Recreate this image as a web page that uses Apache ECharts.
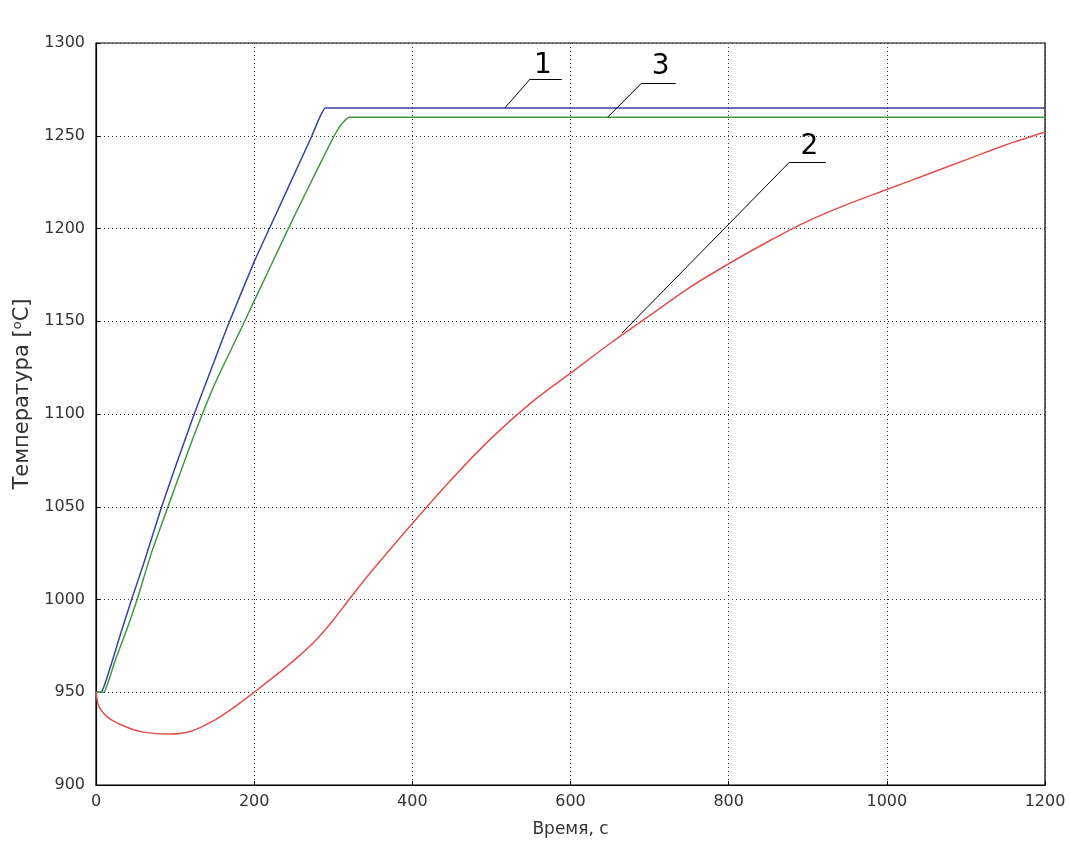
<!DOCTYPE html>
<html><head><meta charset="utf-8">
<script src="https://cdn.jsdelivr.net/npm/echarts@6/dist/echarts.min.js"></script>
<style>html,body{margin:0;padding:0;background:#fff}#c{width:1071px;height:855px}</style>
</head><body><div id="c"></div>
<script>
// Curve 1 (blue): [time s, temperature °C]
const curve1 = [[0,950],[6,950],[10,953],[20,966],[30,980],[45,1000],[60,1019],[83,1050],[100,1071],[125,1101],[150,1129],[167,1148],[200,1182],[230,1210],[258,1236],[273,1250],[283,1260],[290,1265],[320,1265],[1200,1265]];
// Curve 3 (green)
const curve3 = [[0,950],[10,950],[15,955],[25,968],[40,985],[52,1000],[70,1025],[91,1050],[120,1084],[150,1116],[188,1150],[220,1179],[250,1206],[280,1232],[300,1249],[310,1256],[320,1260],[350,1260],[1200,1260]];
// Curve 2 (red)
const curve2 = [[0,950],[3,943],[9,939],[20,935],[40,931],[60,928.5],[93,927.5],[120,929],[150,935],[175,942],[200,950],[230,960],[258,970],[280,979],[300,989],[320,1000],[350,1016],[400,1041],[450,1065],[500,1087],[550,1106],[600,1122],[650,1138],[700,1153],[750,1168],[800,1181],[850,1193],[900,1204],[950,1213],[1000,1221],[1050,1229],[1100,1237],[1150,1245],[1200,1252]];
// Annotation leaders: [start on curve, knee, end of shelf] and label positions
const leader1 = [[517,1265],[549,1280.6],[589,1280.6]];
const leader3 = [[647,1260],[690,1278.4],[733,1278.4]];
const leader2 = [[665,1143.6],[877,1235.8],[923,1235.8]];
const labels = [["1",[565,1288]],["3",[714,1287]],["2",[902,1244]]];

const chart = echarts.init(document.getElementById('c'));
function segs(p){ return [[{coord:p[0]},{coord:p[1]}],[{coord:p[1]},{coord:p[2]}]]; }
const leaderStyle = {silent:true, symbol:['none','none'], label:{show:false}, lineStyle:{color:'#000',width:1,type:'solid'}, animation:false};
const FONT = 'DejaVu Sans';
chart.setOption({
  animation:false,
  backgroundColor:'#fff',
  grid:{left:96,right:26,top:43,bottom:70,show:true,borderColor:'#000',borderWidth:1.2},
  xAxis:{type:'value',min:0,max:1200,interval:200,
    name:'Время, с',nameLocation:'middle',nameGap:36,
    nameTextStyle:{fontFamily:FONT,fontSize:17,color:'#333'},
    axisLine:{lineStyle:{color:'#000',width:1.2}},
    axisTick:{inside:true,length:4,lineStyle:{color:'#000'}},
    axisLabel:{fontFamily:FONT,fontSize:16,color:'#333',margin:9,formatter:v=>String(v)},
    splitLine:{show:true,lineStyle:{color:'#333',type:[1,3],width:1}}},
  yAxis:{type:'value',min:900,max:1300,interval:50,
    name:'Температура [{sup|o}C]',nameLocation:'middle',nameGap:59,nameRotate:90,
    nameTextStyle:{fontFamily:FONT,fontSize:21,color:'#333',padding:[0,0,0,40],
      rich:{sup:{fontFamily:FONT,fontSize:13,color:'#333',verticalAlign:'top',padding:[0,0,10,0]}}},
    axisLine:{lineStyle:{color:'#000',width:1.2}},
    axisTick:{inside:true,length:4,lineStyle:{color:'#000'}},
    axisLabel:{fontFamily:FONT,fontSize:16,color:'#333',margin:11,formatter:v=>String(v)},
    splitLine:{show:true,lineStyle:{color:'#333',type:[1,3],width:1}}},
  series:[
    {name:'1',type:'line',data:curve1,showSymbol:false,smooth:0.15,lineStyle:{color:'#3b3fa6',width:1.5},itemStyle:{color:'#3b3fa6'},
     markLine:Object.assign({data:segs(leader1)},leaderStyle)},
    {name:'3',type:'line',data:curve3,showSymbol:false,smooth:0.15,lineStyle:{color:'#3e9a3e',width:1.5},itemStyle:{color:'#3e9a3e'},
     markLine:Object.assign({data:segs(leader3)},leaderStyle)},
    {name:'2',type:'line',data:curve2,showSymbol:false,smooth:0.3,lineStyle:{color:'#e0504e',width:1.5},itemStyle:{color:'#e0504e'},
     markLine:Object.assign({data:segs(leader2)},leaderStyle),
     markPoint:{silent:true,symbol:'circle',symbolSize:0,animation:false,
       data:labels.map(l=>({coord:l[1],value:l[0],label:{show:true,formatter:l[0],position:'inside',fontFamily:FONT,fontSize:28,color:'#000'}}))}}
  ]
});
</script></body></html>
